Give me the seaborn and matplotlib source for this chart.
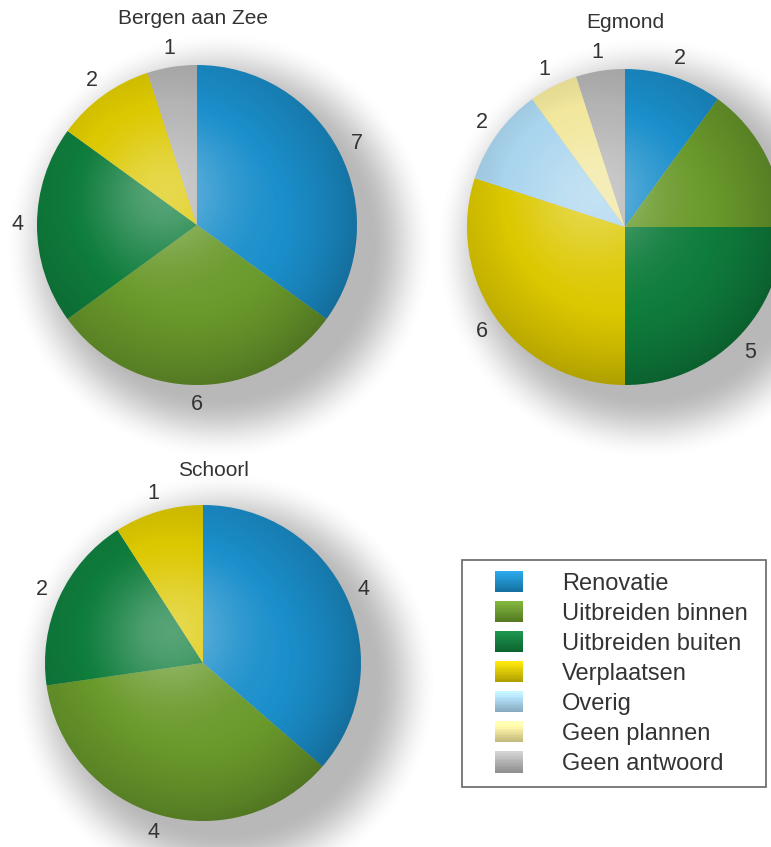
import numpy as np
import matplotlib
matplotlib.use("Agg")
import matplotlib.pyplot as plt
from matplotlib.patches import Patch, Circle, Rectangle
from matplotlib.legend_handler import HandlerBase
import matplotlib.colors as mcolors
import seaborn as sns

# --- data ---
CATEGORIES = ["Renovatie", "Uitbreiden binnen", "Uitbreiden buiten", "Verplaatsen",
              "Overig", "Geen plannen", "Geen antwoord"]
COLORS = ["#1b8fcb", "#6a9a2c", "#0f7d3c", "#dcc800", "#a9d5ee", "#f2e79c", "#b4b4b4"]

TITLES = ["Bergen aan Zee", "Egmond", "Schoorl"]
bergen = [7, 6, 4, 2, 0, 0, 1]
egmond = [2, 3, 5, 6, 2, 1, 1]
schoorl = [4, 4, 2, 1, 0, 0, 0]

W, H = 771, 847
# pie layout in pixel coords (x, y from top, radius)
LAYOUT = [(197, 225, 160), (625, 227, 158), (203, 663, 158)]
TITLE_POS = [(193, 18), (625, 22), (213, 470)]


class GradientHandler(HandlerBase):
    # legend square with a light-to-dark vertical gradient
    def create_artists(self, legend, orig_handle, xdescent, ydescent, width, height, fontsize, trans):
        base = np.array(mcolors.to_rgb(orig_handle.get_facecolor()))
        n = 12
        arts = []
        for i in range(n):
            f = i / (n - 1)  # 0 bottom, 1 top
            col = np.clip(base * (0.8 + 0.3 * f) + 0.05 * f, 0, 1)
            arts.append(Rectangle((-xdescent, -ydescent + height * i / n), width, height / n + 0.3,
                                  facecolor=col, edgecolor="none", transform=trans))
        return arts


sns.set_theme(style="white")
plt.rcParams["font.family"] = ["Liberation Sans", "DejaVu Sans"]

fig = plt.figure(figsize=(W / 100, H / 100), dpi=100)
ax = fig.add_axes([0, 0, 1, 1])

# soft drop shadows
yy, xx = np.mgrid[0:H, 0:W]
alpha = np.zeros((H, W))
for cx, cy, r in LAYOUT:
    d = np.hypot(xx - (cx + 22), yy - (cy + 20))
    a = np.clip((r + 22 - d) / 65 + 0.5, 0, 1)
    a = a * a * (3 - 2 * a)
    alpha = np.maximum(alpha, 0.45 * a)
shadow = np.zeros((H, W, 4))
shadow[..., :3] = 0.38
shadow[..., 3] = alpha
ax.imshow(shadow, extent=(0, W, 0, H), origin="upper", zorder=0, interpolation="bilinear")

for vals, title, (cx, cy, r), (tx, ty) in zip([bergen, egmond, schoorl], TITLES, LAYOUT, TITLE_POS):
    keep = [i for i, v in enumerate(vals) if v > 0]
    v = [vals[i] for i in keep]
    c = [COLORS[i] for i in keep]
    wedges, texts = ax.pie(v, labels=[str(x) for x in v], colors=c, startangle=90,
                           counterclock=False, center=(cx, H - cy), radius=r,
                           labeldistance=1.12, frame=True,
                           wedgeprops=dict(linewidth=0),
                           textprops=dict(fontsize=15.5, color="#333333"))
    for t in texts:
        t.set_ha("center")
        t.set_va("center")
    # sphere-like shading
    n = 300
    v_, u_ = np.mgrid[1:-1:n * 1j, -1:1:n * 1j]
    rho = np.hypot(u_, v_)
    s = 0.3 * np.exp(-((u_ + 0.2) ** 2 + (v_ - 0.2) ** 2) / 0.18)
    s -= 0.35 * np.clip(rho - 0.45, 0, 1) ** 1.4 * (1 + 0.4 * (u_ - v_))
    img = np.zeros((n, n, 4))
    img[..., :3] = np.where(s[..., None] > 0, 1.0, 0.0)
    img[..., 3] = np.clip(np.abs(s), 0, 1)
    im = ax.imshow(img, extent=(cx - r, cx + r, H - cy - r, H - cy + r), origin="upper",
                   zorder=3, interpolation="bilinear")
    im.set_clip_path(Circle((cx, H - cy), r, transform=ax.transData))
    ax.text(tx, H - ty, title, ha="center", va="center", fontsize=15, color="#333333")

ax.set_xlim(0, W)
ax.set_ylim(0, H)
ax.set_aspect("equal")
ax.axis("off")

# legend with a separate frame
handles = [Patch(facecolor=c, edgecolor="none") for c in COLORS]
leg = ax.legend(handles, CATEGORIES, loc="upper left",
                bbox_to_anchor=(495 / W, 1 - 571 / H), bbox_transform=fig.transFigure,
                fontsize=17, frameon=False,
                handler_map={Patch: GradientHandler()},
                handlelength=1.2, handleheight=0.98, handletextpad=1.65,
                borderpad=0, labelspacing=0.28, borderaxespad=0)
for t in leg.get_texts():
    t.set_color("#333333")
ax.add_patch(Rectangle((462, H - 787), 304, 227, facecolor="none", edgecolor="#666666",
                       linewidth=1.2, zorder=5))

fig.savefig("out.png", dpi=100, facecolor="white")
